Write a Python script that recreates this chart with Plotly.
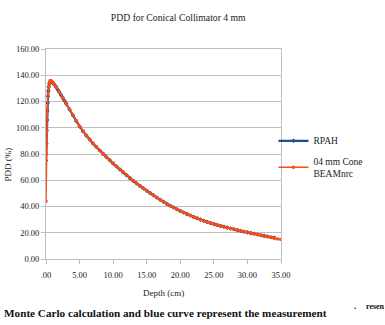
import plotly.graph_objects as go

title_text = "PDD for Conical Collimator 4 mm"
x_title = "Depth (cm)"
y_title = "PDD (%)"

x_tickvals = [0, 5, 10, 15, 20, 25, 30, 35]
x_ticktext = [".00", "5.00", "10.00", "15.00", "20.00", "25.00", "30.00", "35.00"]
y_tickvals = [0, 20, 40, 60, 80, 100, 120, 140, 160]
y_ticktext = ["0.00", "20.00", "40.00", "60.00", "80.00", "100.00", "120.00", "140.00", "160.00"]

# Measurement (RPAH)
rpah_depth = [0.0, 0.05, 0.1, 0.15, 0.2, 0.25, 0.3, 0.35, 0.4, 0.5, 0.6, 0.7, 0.8, 0.9, 1.0,
              1.25, 1.5, 1.75, 2.0, 2.25, 2.5, 2.75, 3.0, 3.5, 4.0, 4.5, 5.0, 5.5, 6.0, 6.5,
              7.0, 7.5, 8.0, 8.5, 9.0, 9.5, 10.0, 10.5, 11.0, 11.5, 12.0, 12.5, 13.0, 13.5,
              14.0, 14.5, 15.0, 15.5, 16.0, 16.5, 17.0, 17.5, 18.0, 18.5, 19.0, 19.5, 20.0,
              20.5, 21.0, 21.5, 22.0, 22.5, 23.0, 23.5, 24.0, 24.5, 25.0, 25.5, 26.0, 26.5,
              27.0, 27.5, 28.0, 28.5, 29.0, 29.5, 30.0, 30.5, 31.0, 31.5, 32.0, 32.5, 33.0,
              33.5, 34.0]
rpah_pdd = [75.0, 88.0, 98.0, 106.0, 113.0, 119.0, 124.0, 128.0, 131.0, 133.5, 135.0, 135.5,
            135.3, 135.0, 134.4, 132.8, 131.0, 129.0, 127.0, 124.8, 122.6, 120.5, 118.4, 114.0,
            109.5, 105.1, 101.0, 97.4, 94.0, 91.0, 88.0, 85.3, 82.7, 80.1, 77.6, 75.2, 72.8,
            70.5, 68.2, 66.0, 63.8, 61.6, 59.5, 57.6, 55.7, 53.8, 52.0, 50.2, 48.5, 46.8,
            45.2, 43.6, 42.0, 40.6, 39.2, 37.9, 36.6, 35.4, 34.2, 33.1, 32.0, 31.0, 30.0,
            29.1, 28.2, 27.4, 26.6, 25.9, 25.2, 24.5, 23.9, 23.2, 22.6, 22.0, 21.4, 20.8,
            20.3, 19.7, 19.2, 18.6, 18.1, 17.6, 17.1, 16.6, 16.1]

# Monte Carlo (04 mm Cone BEAMnrc)
mc_depth = [0.0, 0.05, 0.1, 0.2, 0.3, 0.4, 0.5, 0.6, 0.7, 0.8, 1.0, 1.25, 1.5, 2.0, 2.5,
            3.0, 3.5, 4.0, 4.5, 5.0, 5.5, 6.0, 6.5, 7.0, 7.5, 8.0, 8.5, 9.0, 9.5, 10.0,
            10.5, 11.0, 11.5, 12.0, 12.5, 13.0, 13.5, 14.0, 14.5, 15.0, 15.5, 16.0, 16.5,
            17.0, 17.5, 18.0, 18.5, 19.0, 19.5, 20.0, 20.5, 21.0, 21.5, 22.0, 22.5, 23.0,
            23.5, 24.0, 24.5, 25.0, 25.5, 26.0, 26.5, 27.0, 27.5, 28.0, 28.5, 29.0, 29.5,
            30.0, 30.5, 31.0, 31.5, 32.0, 32.5, 33.0, 33.5, 34.0, 34.5, 35.0]
mc_pdd = [44.0, 80.0, 97.0, 114.0, 125.0, 131.5, 134.5, 135.8, 135.6, 135.2, 134.5, 133.0,
          131.3, 127.2, 122.8, 118.6, 114.2, 109.7, 105.2, 101.1, 97.5, 94.1, 91.1, 88.1,
          85.4, 82.8, 80.2, 77.7, 75.3, 72.9, 70.6, 68.3, 66.1, 63.9, 61.7, 59.6, 57.6,
          55.7, 53.8, 52.0, 50.2, 48.5, 46.8, 45.2, 43.6, 42.0, 40.6, 39.2, 37.9, 36.6,
          35.4, 34.2, 33.1, 32.0, 31.0, 30.0, 29.1, 28.2, 27.4, 26.6, 25.9, 25.2, 24.5,
          23.9, 23.2, 22.6, 22.0, 21.4, 20.8, 20.3, 19.7, 19.2, 18.6, 18.1, 17.5, 17.0,
          16.4, 15.9, 15.3, 14.8]

serif = "Liberation Serif, Times New Roman, serif"
blue = "#1F4E8C"
orange = "#FF4A14"
txt = "#222222"

fig = go.Figure()
fig.add_trace(go.Scatter(
    x=rpah_depth, y=rpah_pdd, name="RPAH", legendgroup="a", mode="lines+markers",
    line=dict(color=blue, width=2.2),
    marker=dict(color=blue, size=3.5, symbol="diamond"),
))
fig.add_trace(go.Scatter(
    x=mc_depth, y=mc_pdd, name="04 mm Cone<br>BEAMnrc", legendgroup="b", mode="lines+markers",
    line=dict(color=orange, width=1.5),
    marker=dict(color=orange, size=3, symbol="square"),
))

axis_common = dict(
    showline=True, linecolor="#BFBFBF", linewidth=1, mirror=True,
    ticks="outside", ticklen=4, tickcolor="#BFBFBF",
    tickfont=dict(family=serif, size=8.5, color=txt),
    zeroline=False, automargin=False,
)

fig.update_layout(
    width=385, height=325,
    margin=dict(l=46, r=104, t=49, b=66),
    paper_bgcolor="white", plot_bgcolor="white",
    font=dict(family=serif, size=9, color=txt),
    title=dict(text=title_text, x=0.463, xanchor="center", y=0.947, yanchor="middle",
               font=dict(family=serif, size=9.7, color=txt)),
    showlegend=True,
    legend=dict(x=0.968, y=0.632, xanchor="left", yanchor="top",
                font=dict(family=serif, size=9.5, color=txt),
                bgcolor="rgba(0,0,0,0)", tracegroupgap=3, itemwidth=30),
    xaxis=dict(range=[0, 35], tickvals=x_tickvals, ticktext=x_ticktext,
               showgrid=False, ticklabelstandoff=4, **axis_common),
    yaxis=dict(range=[0, 160], tickvals=y_tickvals, ticktext=y_ticktext,
               showgrid=True, gridcolor="#BFBFBF", gridwidth=1, **axis_common),
)

# axis titles
fig.add_annotation(text=x_title, xref="paper", yref="paper", x=0.5, y=-0.162,
                   xanchor="center", yanchor="middle", showarrow=False,
                   font=dict(family=serif, size=9, color=txt))
fig.add_annotation(text=y_title, xref="paper", yref="paper", x=-0.162, y=0.45,
                   xanchor="center", yanchor="middle", textangle=-90, showarrow=False,
                   font=dict(family=serif, size=9, color=txt))

# caption fragments below the chart
fig.add_annotation(text="<b>Monte Carlo calculation and blue curve represent the measurement</b>",
                   xref="paper", yref="paper", x=-0.187, y=-0.257, xanchor="left", yanchor="middle",
                   showarrow=False, font=dict(family=serif, size=11.2, color="#111"))
fig.add_annotation(text="<b>.</b>",
                   xref="paper", yref="paper", x=1.301, y=-0.222, xanchor="left", yanchor="middle",
                   showarrow=False, font=dict(family=serif, size=9, color="#111"))
fig.add_annotation(text="<b>resen</b>",
                   xref="paper", yref="paper", x=1.354, y=-0.224, xanchor="left", yanchor="middle",
                   showarrow=False, font=dict(family=serif, size=8, color="#111"))

fig.write_html("out.html", config={"displayModeBar": False},
               post_script="document.body.style.margin='0';")
